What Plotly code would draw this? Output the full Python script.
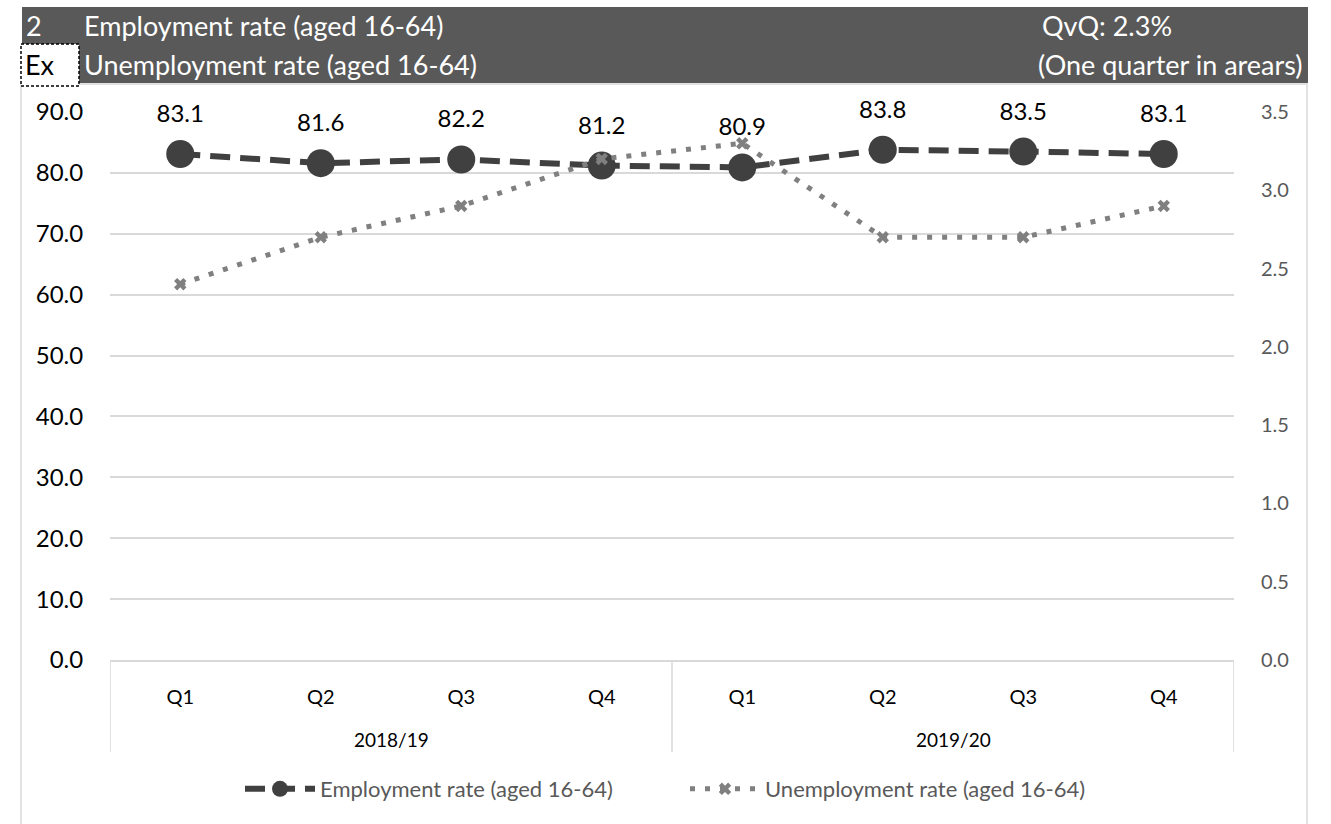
import plotly.graph_objects as go

years = ["2018/19", "2019/20"]
quarters = ["Q1", "Q2", "Q3", "Q4", "Q1", "Q2", "Q3", "Q4"]
periods = ["2018/19 Q1", "2018/19 Q2", "2018/19 Q3", "2018/19 Q4",
           "2019/20 Q1", "2019/20 Q2", "2019/20 Q3", "2019/20 Q4"]
employment = [83.1, 81.6, 82.2, 81.2, 80.9, 83.8, 83.5, 83.1]
unemployment = [2.4, 2.7, 2.9, 3.2, 3.3, 2.7, 2.7, 2.9]
left_ticks = [0, 10, 20, 30, 40, 50, 60, 70, 80, 90]
right_ticks = [0, 0.5, 1.0, 1.5, 2.0, 2.5, 3.0, 3.5]

FONT = "Lato"
W_, H_ = 1331, 824
L, R, T, B = 110, 1234, 112, 660
PW, PH = R - L, B - T


def px(x):
    return (x - L) / PW


def py(y):
    return (B - y) / PH


fig = go.Figure()
fig.add_trace(go.Scatter(
    x=periods, y=employment, name="Employment rate (aged 16-64)",
    mode="lines+markers",
    line=dict(color="#404040", width=6, dash="20px,10px"),
    marker=dict(size=28, color="#404040", symbol="circle"),
    yaxis="y",
))
# data labels for employment
fig.add_trace(go.Scatter(
    x=periods, y=employment, mode="markers+text", text=[f"{v:.1f}" for v in employment],
    textposition="top center", textfont=dict(size=24, color="#000000", family=FONT),
    marker=dict(size=40, color="rgba(0,0,0,0)"), showlegend=False, hoverinfo="skip",
    cliponaxis=False, yaxis="y",
))
fig.add_trace(go.Scatter(
    x=periods, y=unemployment, name="Unemployment rate (aged 16-64)",
    mode="lines+markers",
    line=dict(color="#808080", width=5, dash="5px,10px"),
    marker=dict(size=11, color="#808080", symbol="x"),
    yaxis="y2",
))

shapes = [
    # chart border
    dict(type="rect", xref="paper", yref="paper", x0=px(21), x1=px(1307), y0=py(830), y1=py(84),
         line=dict(color="#d9d9d9", width=1.5), fillcolor="rgba(0,0,0,0)", layer="below"),
    # header band
    dict(type="rect", xref="paper", yref="paper", x0=px(22), x1=px(1308), y0=py(83), y1=py(7),
         line=dict(width=0), fillcolor="#595959", layer="above"),
    # Ex box
    dict(type="rect", xref="paper", yref="paper", x0=px(21), x1=px(79), y0=py(86), y1=py(44),
         line=dict(color="#000000", width=1.5, dash="3px,2px"), fillcolor="#ffffff", layer="above"),
]
# category group dividers (between groups of quarters)
n_per_group = len(quarters) // len(years)
for k in range(len(years) + 1):
    shapes.append(dict(type="line", xref="x", yref="paper", x0=k * n_per_group - 0.5,
                       x1=k * n_per_group - 0.5, y0=0, y1=py(752),
                       line=dict(color="#d9d9d9", width=1.5)))

ann = []


def add_text(x, y, text, color="#ffffff", anchor="left", size=27):
    ann.append(dict(xref="paper", yref="paper", x=px(x), y=py(y), text=text, showarrow=False,
                    xanchor=anchor, yanchor="middle", font=dict(size=size, color=color, family=FONT)))


add_text(24, 26, "2")
add_text(82, 26, "Employment rate (aged 16-64)")
add_text(1040, 26, "QvQ: 2.3%")
add_text(23, 64, "Ex", color="#000000")
add_text(82, 64, "Unemployment rate (aged 16-64)")
add_text(1305, 64, "(One quarter in arears)", anchor="right")

for k, yr in enumerate(years):
    ann.append(dict(xref="x", yref="paper", x=k * n_per_group + (n_per_group - 1) / 2, y=py(739),
                    text=yr, showarrow=False, xanchor="center", yanchor="middle",
                    font=dict(size=19, color="#000000", family=FONT)))

fig.update_layout(
    width=W_, height=H_,
    margin=dict(l=L, r=W_ - R, t=T, b=H_ - B, autoexpand=False),
    paper_bgcolor="#ffffff", plot_bgcolor="#ffffff",
    font=dict(family=FONT, color="#000000"),
    showlegend=True,
    legend=dict(orientation="h", x=px(240), xanchor="left", y=py(789), yanchor="middle",
                font=dict(size=22, color="#595959", family=FONT), bgcolor="rgba(0,0,0,0)",
                itemwidth=70, entrywidth=360),
    xaxis=dict(type="category", tickmode="array", tickvals=periods, ticktext=quarters,
               range=[-0.5, len(periods) - 0.5],
               showgrid=False, showline=True, linecolor="#d9d9d9", linewidth=1.5,
               tickfont=dict(size=20, color="#000000", family=FONT),
               ticks="outside", ticklen=18, tickcolor="rgba(0,0,0,0)"),
    yaxis=dict(range=[0, 90], tickvals=left_ticks, tickformat=".1f", showgrid=True,
               gridcolor="#d9d9d9", gridwidth=1.5, zeroline=False, showline=False,
               ticks="outside", ticklen=21, tickcolor="rgba(0,0,0,0)",
               tickfont=dict(size=24, color="#000000", family=FONT)),
    yaxis2=dict(range=[0, 3.5], tickvals=right_ticks, tickformat=".1f", overlaying="y", side="right",
                showgrid=False, zeroline=False, showline=False,
                ticks="outside", ticklen=22, tickcolor="rgba(0,0,0,0)",
                tickfont=dict(size=20, color="#595959", family=FONT)),
    shapes=shapes, annotations=ann,
)

fig.write_html("out.html", config={"displayModeBar": False},
               post_script="document.body.style.margin='0';")
